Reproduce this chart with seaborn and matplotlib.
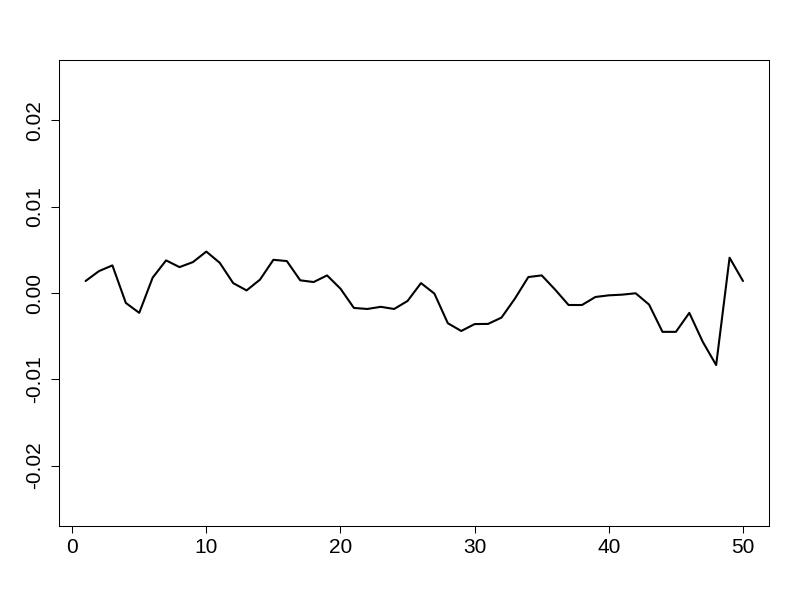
import numpy as np
import pandas as pd
import seaborn as sns
import matplotlib
matplotlib.use("Agg")
import matplotlib.pyplot as plt

# values (index 1..50)
idx = list(range(1, 51))
vals = [1.39, 2.54, 3.2, -1.15, -2.3, 1.78, 3.78, 3.0, 3.58, 4.8,
        3.5, 1.15, 0.3, 1.55, 3.85, 3.7, 1.47, 1.27, 2.04, 0.5,
        -1.73, -1.85, -1.6, -1.85, -0.92, 1.15, -0.07, -3.5, -4.4, -3.6,
        -3.58, -2.85, -0.65, 1.85, 2.04, 0.39, -1.39, -1.39, -0.46, -0.27,
        -0.19, -0.03, -1.34, -4.5, -4.5, -2.3, -5.65, -8.35, 4.09, 1.39]
vals = [v / 1000 for v in vals]
xticks = [0, 10, 20, 30, 40, 50]
yticks = [-0.02, -0.01, 0.00, 0.01, 0.02]
ytick_labels = ["-0.02", "-0.01", "0.00", "0.01", "0.02"]

sns.set_style("ticks")
plt.rcParams['font.family'] = ['Liberation Sans', 'DejaVu Sans']

df = pd.DataFrame({"t": idx, "v": vals})

fig = plt.figure(figsize=(8, 6), dpi=100)
ax = fig.add_axes([0.0741, 0.1233, 0.8875, 0.7767])
sns.lineplot(data=df, x="t", y="v", color="black", linewidth=1.5, ax=ax)

ax.set_xlim(-0.96, 51.96)
ax.set_ylim(-0.027, 0.027)
ax.set_xticks(xticks)
ax.set_yticks(yticks)
ax.set_yticklabels(ytick_labels, rotation=90, va="center")
ax.tick_params(axis="x", length=5, width=0.75, pad=3.5, labelsize=15,
               color="black", labelcolor="black")
ax.tick_params(axis="y", length=6, width=0.75, pad=5, labelsize=15,
               color="black", labelcolor="black")
ax.set_xlabel("")
ax.set_ylabel("")
for s in ax.spines.values():
    s.set_visible(True)
    s.set_linewidth(0.75)
    s.set_color("black")

fig.savefig("out.png", dpi=100)
